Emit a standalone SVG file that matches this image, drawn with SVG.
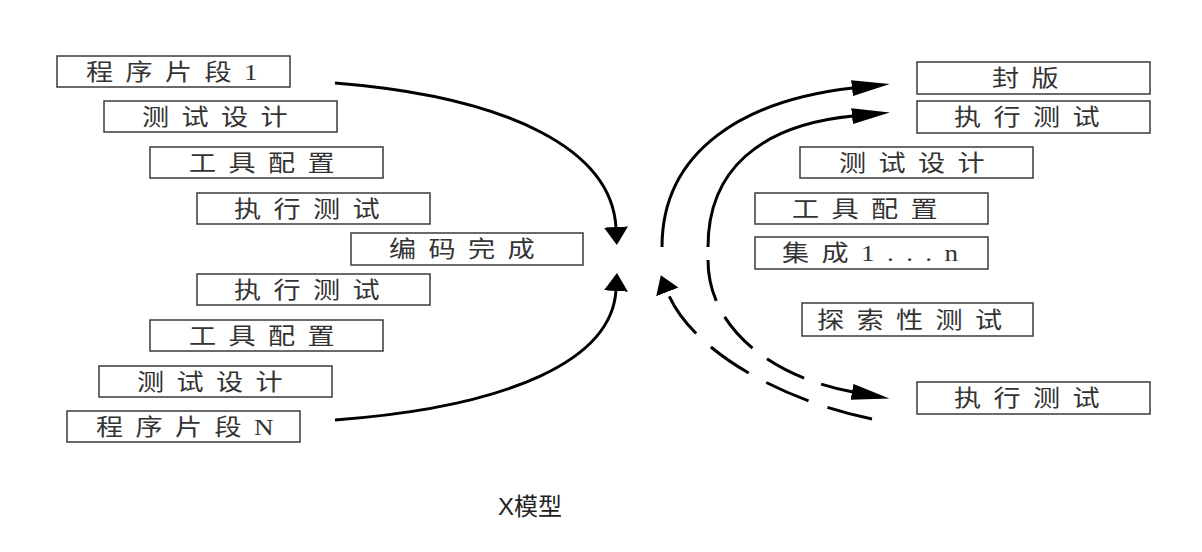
<svg xmlns="http://www.w3.org/2000/svg" width="1202" height="552" viewBox="0 0 1202 552">
<style>
.box{fill:#fff;stroke:#3a3a3a;stroke-width:1.5}
.lbl{font-family:"Liberation Serif","Noto Sans CJK SC",serif;font-size:23px;fill:#333;letter-spacing:10.5px}
.cv{fill:none;stroke:#000;stroke-width:3}
.dash{stroke-dasharray:42 18}
.dash2{stroke-dasharray:46 20}
.title{font-family:"Liberation Sans","Noto Sans CJK SC",sans-serif;font-size:24px;fill:#222}
</style>
<defs>
<marker id="ahS" markerUnits="userSpaceOnUse" markerWidth="18" markerHeight="24" refX="1" refY="12" orient="auto" viewBox="0 0 18 24"><path d="M0,0 L18,12 L0,24 z" fill="#000"/></marker>
<marker id="ahL" markerUnits="userSpaceOnUse" markerWidth="38" markerHeight="16" refX="1" refY="8" orient="auto" viewBox="0 0 38 16"><path d="M0,0 L38,8 L0,16 z" fill="#000"/></marker>
</defs>
<rect width="1202" height="552" fill="#fff"/>
<g id="connectors">
<path class="cv" d="M335,83 C510,97 612,150 616,228" marker-end="url(#ahS)"/>
<path class="cv" d="M335,420 C510,407 612,360 616,290" marker-end="url(#ahS)"/>
<path class="cv" d="M662,247 C662,150 745,100 853,88" marker-end="url(#ahL)"/>
<path class="cv" d="M708,247 C708,170 760,125 853,116" marker-end="url(#ahL)"/>
<path class="cv dash" d="M708,260 C708,330 775,378 853,392" marker-end="url(#ahL)"/>
<path class="cv dash2" d="M872,419 C780,400 690,350 667,291" marker-end="url(#ahS)"/>
</g>
<g id="n-l1"><rect class="box" x="57" y="56" width="233" height="31"/><text class="lbl" transform="translate(86,80) scale(1.18,1)">程序片段1</text></g>
<g id="n-l2"><rect class="box" x="104" y="101" width="233" height="31"/><text class="lbl" transform="translate(142,125) scale(1.18,1)">测试设计</text></g>
<g id="n-l3"><rect class="box" x="150" y="147" width="233" height="31"/><text class="lbl" transform="translate(189,171) scale(1.18,1)">工具配置</text></g>
<g id="n-l4"><rect class="box" x="197" y="193" width="233" height="31"/><text class="lbl" transform="translate(234,217) scale(1.18,1)">执行测试</text></g>
<g id="n-l5"><rect class="box" x="351" y="233" width="232" height="32"/><text class="lbl" transform="translate(389,257) scale(1.18,1)">编码完成</text></g>
<g id="n-l6"><rect class="box" x="197" y="274" width="233" height="31"/><text class="lbl" transform="translate(234,298) scale(1.18,1)">执行测试</text></g>
<g id="n-l7"><rect class="box" x="150" y="320" width="233" height="31"/><text class="lbl" transform="translate(189,344) scale(1.18,1)">工具配置</text></g>
<g id="n-l8"><rect class="box" x="99" y="366" width="233" height="31"/><text class="lbl" transform="translate(137,390) scale(1.18,1)">测试设计</text></g>
<g id="n-l9"><rect class="box" x="67" y="411" width="233" height="31"/><text class="lbl" transform="translate(96,435) scale(1.18,1)">程序片段N</text></g>
<g id="n-r1"><rect class="box" x="917" y="62" width="233" height="32"/><text class="lbl" transform="translate(992,86) scale(1.18,1)">封版</text></g>
<g id="n-r2"><rect class="box" x="917" y="101" width="233" height="32"/><text class="lbl" transform="translate(954,125) scale(1.18,1)">执行测试</text></g>
<g id="n-r3"><rect class="box" x="800" y="147" width="233" height="31"/><text class="lbl" transform="translate(839,171) scale(1.18,1)">测试设计</text></g>
<g id="n-r4"><rect class="box" x="755" y="193" width="233" height="31"/><text class="lbl" transform="translate(792,217) scale(1.18,1)">工具配置</text></g>
<g id="n-r5"><rect class="box" x="755" y="237" width="233" height="32"/><text class="lbl" transform="translate(782,261) scale(1.18,1)">集成1...n</text></g>
<g id="n-r6"><rect class="box" x="802" y="303" width="231" height="33"/><text class="lbl" transform="translate(817,328) scale(1.18,1)">探索性测试</text></g>
<g id="n-r7"><rect class="box" x="917" y="382" width="233" height="32"/><text class="lbl" transform="translate(954,406) scale(1.18,1)">执行测试</text></g>
<g id="title"><text class="title" x="498" y="515">X模型</text></g>
</svg>
